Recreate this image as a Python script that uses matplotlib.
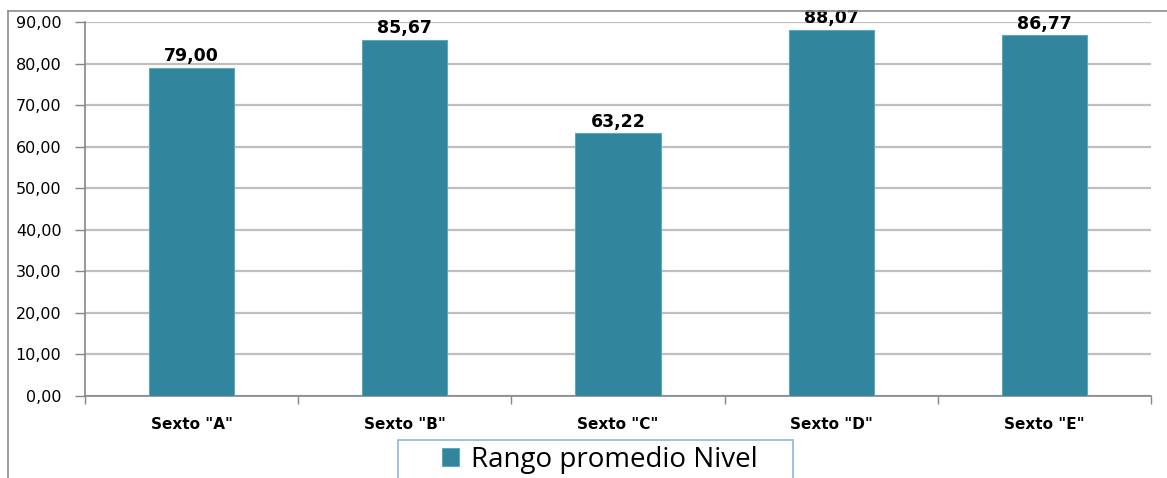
import matplotlib.pyplot as plt
from matplotlib.patches import Rectangle
from matplotlib.lines import Line2D
from matplotlib.ticker import FuncFormatter, FixedLocator

categories = ['Sexto "A"', 'Sexto "B"', 'Sexto "C"', 'Sexto "D"', 'Sexto "E"']
rango_promedio = [79.00, 85.67, 63.22, 88.07, 86.77]
series_name = "Rango promedio Nivel"
yticks = [0, 10, 20, 30, 40, 50, 60, 70, 80, 90]

bar_color = "#31859C"
grid_color = "#BFBFBF"
axis_color = "#868686"


def comma_fmt(v, pos=None):
    return f"{v:.2f}".replace(".", ",")


fig = plt.figure(figsize=(11.67, 4.78), dpi=100)
W, H = 1167, 478

# outer chart border (only top and left edges are inside the canvas)
fig.add_artist(Line2D([8 / W, 8 / W], [0, 1 - 11 / H], transform=fig.transFigure,
                      color="#8C8C8C", lw=1.2))
fig.add_artist(Line2D([8 / W, 1], [1 - 11 / H, 1 - 11 / H], transform=fig.transFigure,
                      color="#8C8C8C", lw=1.2))

ax = fig.add_axes([85 / W, 1 - 396 / H, (1151 - 85) / W, (396 - 22) / H])

x = list(range(len(categories)))
bars = ax.bar(x, rango_promedio, width=0.4, color=bar_color,
              edgecolor="#5FA8BC", linewidth=0.8, zorder=3, label=series_name)

for xi, v in zip(x, rango_promedio):
    ax.annotate(comma_fmt(v), (xi, v), xytext=(0, 2), textcoords="offset points",
                ha="center", va="bottom", fontsize=12.5, fontweight="bold", zorder=4)

ax.set_xlim(-0.5, len(categories) - 0.5)
ax.set_ylim(0, 90)
ax.set_yticks(yticks)
ax.yaxis.set_major_formatter(FuncFormatter(comma_fmt))
ax.tick_params(axis="y", length=7, width=1, color=axis_color, pad=10, labelsize=11.5)

ax.set_xticks(x)
ax.set_xticklabels(categories, fontsize=11, fontweight="bold")
ax.tick_params(axis="x", which="major", length=0, pad=15)
ax.xaxis.set_minor_locator(FixedLocator([i - 0.5 for i in range(len(categories) + 1)]))
ax.tick_params(axis="x", which="minor", length=6, width=1, color=axis_color)

ax.grid(axis="y", color=grid_color, lw=1.6, zorder=0)
ax.set_axisbelow(True)
for side in ("top", "right"):
    ax.spines[side].set_visible(False)
for side in ("left", "bottom"):
    ax.spines[side].set_color(axis_color)
    ax.spines[side].set_linewidth(1.2)

# legend box
fig.add_artist(Rectangle((398 / W, -0.02), (793 - 398) / W, 1 - 440 / H + 0.02,
                         transform=fig.transFigure, facecolor="white",
                         edgecolor="#8DB4E2", lw=1.2))
fig.legend(handles=[bars], labels=[series_name], loc="center",
           bbox_to_anchor=(600 / W, 1 - 460 / H), frameon=False,
           prop={"family": "Open Sans", "size": 20}, handlelength=0.6,
           handleheight=0.6, handletextpad=0.45)

fig.savefig("out.png", dpi=100)
